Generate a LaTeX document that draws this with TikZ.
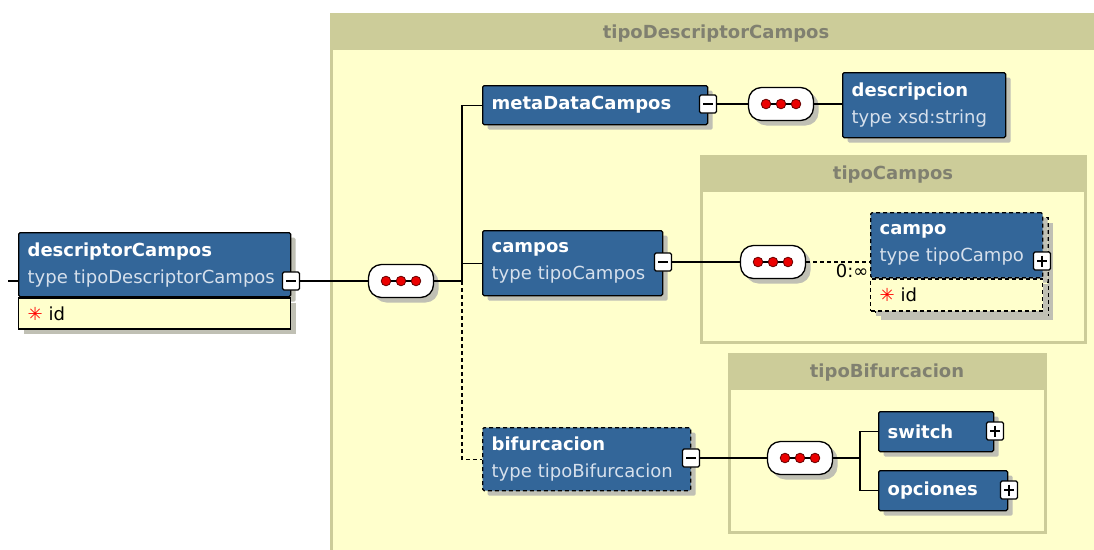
\documentclass[tikz,border=0pt]{standalone}
\usepackage{fontspec}
\setmainfont{DejaVu Sans}
\usetikzlibrary{shadows}
\definecolor{elemblue}{RGB}{51, 102, 153}
\definecolor{typegray}{RGB}{214, 224, 236}
\definecolor{bodyyellow}{RGB}{255, 255, 204}
\definecolor{headolive}{RGB}{204, 204, 153}
\definecolor{headtext}{RGB}{128, 128, 112}
\definecolor{dotred}{RGB}{235, 0, 0}
\definecolor{shadowgray}{RGB}{192, 192, 180}

\newcommand\typeline[1]{{\color{typegray}#1}}
\newcommand\req{{\color{red}\bfseries ✳}}

\tikzset{
  wire/.style={draw=black, line width=1.3},
  dashwire/.style={wire, dash pattern=on 4pt off 3pt},
  frame/.style={fill=bodyyellow, draw=headolive, line width=3},
  headlabel/.style={text=headtext, font=\fontsize{18}{20}\selectfont\bfseries, inner sep=0},
  elem/.style={draw=black, fill=elemblue, line width=1.3, rounded corners=1.5, anchor=north west,
    inner xsep=9, inner ysep=0, align=left, text=white, font=\fontsize{18}{27}\selectfont,
    drop shadow={shadow xshift=5pt, shadow yshift=-5pt, fill=shadowgray, opacity=1}},
  optelem/.style={elem, dash pattern=on 4pt off 3pt},
  attrbox/.style={elem, fill=bodyyellow, text=black, rounded corners=0},
  optattr/.style={attrbox, dash pattern=on 4pt off 3pt},
  seqbox/.style={draw=black, fill=white, line width=1.3, rounded corners=13, minimum width=65, minimum height=33,
    drop shadow={shadow xshift=5pt, shadow yshift=-5pt, fill=shadowgray, opacity=1},
    path picture={
      \draw[line width=1.2] ([xshift=-15pt]path picture bounding box.center) -- ([xshift=15pt]path picture bounding box.center);
      \foreach \dx in {-15, 0, 15}
        \filldraw[fill=dotred, draw=black!60!red, line width=0.8] ([xshift=\dx pt]path picture bounding box.center) circle (4.8pt);
    }},
  minusbox/.style={draw=black, fill=white, line width=1.3, rounded corners=1.5, minimum width=17, minimum height=18, inner sep=0,
    path picture={\draw[line width=1.8] ([xshift=3.5pt]path picture bounding box.west) -- ([xshift=-3.5pt]path picture bounding box.east);}},
  plusbox/.style={minusbox,
    path picture={\draw[line width=1.8] ([xshift=3.5pt]path picture bounding box.west) -- ([xshift=-3.5pt]path picture bounding box.east)
      ([yshift=-3.5pt]path picture bounding box.north) -- ([yshift=3.5pt]path picture bounding box.south);}}
}

\begin{document}
\begin{tikzpicture}[x=1pt, y=-1pt]
  \fill[white] (0, 0) rectangle (1094, 549);
  \useasboundingbox (0, 0) rectangle (1094, 549);

  % outer complex type
  \filldraw[frame] (331, 14) rectangle (1110, 570);
  \fill[headolive] (331, 14) rectangle (1110, 50);
  \node[headlabel] (tdc) at (716, 34) {tipoDescriptorCampos};

  % root element
  \node[elem, text width=254, minimum height=64] (dc) at (18, 232) {\textbf{descriptorCampos}\\\typeline{type tipoDescriptorCampos}};
  \node[attrbox, text width=254, minimum height=31] (dcid) at (dc.south west) {\req\ id};
  \node[minusbox] (dcm) at (291, 281) {};
  \coordinate (dcin) at (8, 281);
  \draw[wire] (dcin) -- (dcin -| dc.west);

  \node[seqbox] (s1) at (401, 281) {};
  \draw[wire] (dcm.east) -- (s1.west);
  \coordinate (j1) at (462, 281);
  \draw[wire] (s1.east) -- (j1);

  % metaDataCampos
  \node[elem, text width=207, minimum height=39] (mdc) at (482, 85) {\textbf{metaDataCampos}};
  \node[minusbox] (mdcm) at (708, 104) {};
  \node[seqbox] (s2) at (781, 104) {};
  \node[elem, text width=145, minimum height=65] (des) at (842, 72) {\textbf{descripcion}\\\typeline{type xsd:string}};
  \draw[wire] (j1) |- (mdc.west);
  \draw[wire] (mdcm.east) -- (s2.west);
  \draw[wire] (s2.east) -- (s2.east -| des.west);

  % campos
  \filldraw[frame] (701, 156) rectangle (1085, 342);
  \fill[headolive] (701, 156) rectangle (1085, 192);
  \node[headlabel] (tc) at (893, 175) {tipoCampos};

  \node[elem, text width=162, minimum height=65] (cp) at (482, 230) {\textbf{campos}\\\typeline{type tipoCampos}};
  \node[minusbox] (cpm) at (663, 262) {};
  \node[seqbox] (s3) at (773, 262) {};
  \filldraw[fill=bodyyellow, draw=black, line width=1.3, dash pattern=on 4pt off 3pt,
    drop shadow={shadow xshift=5pt, shadow yshift=-5pt, fill=shadowgray, opacity=1}] (876, 218) rectangle (1048, 315);
  \fill[elemblue] (1040, 219) rectangle (1047.3, 277);
  \draw[black, line width=1.3, dash pattern=on 4pt off 3pt] (876, 218) rectangle (1048, 315);
  \node[optelem, text width=154, minimum height=65] (cpo) at (870, 212) {\textbf{campo}\\\typeline{type tipoCampo}};
  \node[optattr, text width=154, minimum height=32] (cpoid) at (cpo.south west) {\req\ id};
  \node[plusbox] (cpop) at (1042, 261) {};
  \draw[wire] (j1 |- cp.west) -- (cp.west);
  \draw[wire] (cpm.east) -- (s3.west);
  \draw[dashwire] (s3.east) -- (s3.east -| cpo.west)
    node[anchor=north east, inner sep=1, font=\fontsize{18}{20}\selectfont] (cpocard) {0:∞};

  % bifurcacion
  \filldraw[frame] (729, 354) rectangle (1045, 532);
  \fill[headolive] (729, 354) rectangle (1045, 390);
  \node[headlabel] (tb) at (887, 373) {tipoBifurcacion};

  \node[optelem, text width=190, minimum height=63] (bif) at (482, 427) {\textbf{bifurcacion}\\\typeline{type tipoBifurcacion}};
  \node[minusbox] (bifm) at (691, 458) {};
  \node[seqbox] (s4) at (800, 458) {};
  \coordinate (j2) at (860, 458);
  \node[elem, text width=97, minimum height=40] (sw) at (878, 411) {\textbf{switch}};
  \node[plusbox] (swp) at (995, 431) {};
  \node[elem, text width=111, minimum height=40] (op) at (878, 470) {\textbf{opciones}};
  \node[plusbox] (opp) at (1009, 490) {};
  \draw[dashwire] (j1) |- (bif.west);
  \draw[wire] (bifm.east) -- (s4.west);
  \draw[wire] (s4.east) -- (j2);
  \draw[wire] (j2) |- (sw.west);
  \draw[wire] (j2) |- (op.west);
\end{tikzpicture}
\end{document}
